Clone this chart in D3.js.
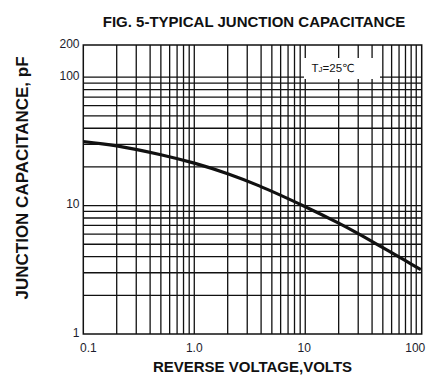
<!DOCTYPE html>
<html>
<head>
<meta charset="utf-8">
<script src="https://cdn.jsdelivr.net/npm/d3@7"></script>
<style>
  html, body { margin: 0; padding: 0; background: #fff; }
  svg { display: block; }
</style>
</head>
<body>
<svg id="chart" width="446" height="384"></svg>
<script>
// ---- data ----
const title = "FIG. 5-TYPICAL JUNCTION CAPACITANCE";
const xTitle = "REVERSE VOLTAGE,VOLTS";
const yTitle = "JUNCTION CAPACITANCE, pF";
const voltage = [0.1, 0.2, 0.5, 1, 2, 3.8, 10, 20, 30, 50, 80, 110];
const capacitance = [31.5, 29.2, 24.9, 21.4, 17.7, 14.3, 9.8, 7.3, 6.05, 4.7, 3.72, 3.17];
const xTickValues = [0.1, 1, 10, 100];
const xTickLabels = ["0.1", "1.0", "10", "100"];
const yTickValues = [1, 10, 100, 200];
const yTickLabels = ["1", "10", "100", "200"];

// ---- layout ----
const svg = d3.select("#chart");
const L = 83.3, R = 421.7, T = 45, B = 334;
const x = d3.scaleLog().domain([0.1, 112]).range([L, R]);
const y = d3.scaleLog().domain([1, 178]).range([B, T]);

// title
svg.append("text").attr("x", 254).attr("y", 27.3)
  .attr("text-anchor", "middle")
  .style("font-family", "'Liberation Sans', Arial, sans-serif")
  .style("font-weight", "bold").style("font-size", "15px").attr("fill", "#111")
  .text(title);

// grid
const g = svg.append("g");
const xGrid = x.ticks().filter(v => v > 0.1 && v <= 100);
const yGrid = y.ticks().filter(v => v > 1 && v <= 100);
g.selectAll("line.v").data(xGrid).join("line")
  .attr("x1", d => x(d)).attr("x2", d => x(d))
  .attr("y1", T).attr("y2", B)
  .attr("stroke", "#111").attr("stroke-width", 1.3);
g.selectAll("line.h").data(yGrid).join("line")
  .attr("x1", L).attr("x2", R)
  .attr("y1", d => y(d)).attr("y2", d => y(d))
  .attr("stroke", "#111").attr("stroke-width", 1.3);

// curve
const pts = voltage.map((v, i) => [v, capacitance[i]]);
svg.append("path").datum(pts)
  .attr("d", d3.line().x(d => x(d[0])).y(d => y(d[1])).curve(d3.curveCatmullRom.alpha(0.5)))
  .attr("fill", "none").attr("stroke", "#111").attr("stroke-width", 3.2)
  .attr("stroke-linecap", "butt");

// frame
svg.append("rect").attr("x", L).attr("y", T).attr("width", R - L).attr("height", B - T)
  .attr("fill", "none").attr("stroke", "#111").attr("stroke-width", 1.5);

// inset label
svg.append("rect").attr("x", 304).attr("y", 58).attr("width", 76).attr("height", 21)
  .attr("fill", "#fff");
const lab = svg.append("text").attr("x", 333).attr("y", 72)
  .attr("text-anchor", "middle")
  .style("font-family", "'Liberation Sans', Arial, sans-serif")
  .style("font-size", "11.5px").attr("fill", "#111");
lab.append("tspan").text("T");
lab.append("tspan").style("font-size", "8px").text("J");
lab.append("tspan").text("=25");
lab.append("tspan").style("font-family", "'DejaVu Sans', sans-serif").style("font-size", "11px").text("℃");

// y tick labels
svg.selectAll("text.yt").data(yTickValues).join("text")
  .attr("x", 79.5)
  .attr("y", d => Math.max(y(d), T) - 1.5)
  .attr("dy", "0.35em")
  .attr("text-anchor", "end")
  .style("font-family", "'Liberation Sans', Arial, sans-serif")
  .style("font-size", "12px").attr("fill", "#1c1c2c")
  .text((d, i) => yTickLabels[i]);

// x tick labels
const xLabOffset = [5, 0, -1, -1];
svg.selectAll("text.xt").data(xTickValues).join("text")
  .attr("x", (d, i) => x(d) + xLabOffset[i])
  .attr("y", 351.7)
  .attr("text-anchor", "middle")
  .style("font-family", "'Liberation Sans', Arial, sans-serif")
  .style("font-size", "12px").attr("fill", "#1c1c2c")
  .text((d, i) => xTickLabels[i]);

// axis titles
svg.append("text").attr("x", 252.5).attr("y", 371.7)
  .attr("text-anchor", "middle")
  .style("font-family", "'Liberation Sans', Arial, sans-serif")
  .style("font-weight", "bold").style("font-size", "15px").attr("fill", "#111")
  .text(xTitle);
svg.append("text")
  .attr("transform", "translate(28.3,178) rotate(-90)")
  .attr("text-anchor", "middle")
  .style("font-family", "'Liberation Sans', Arial, sans-serif")
  .style("font-weight", "bold").style("font-size", "17px").attr("fill", "#111")
  .text(yTitle);
</script>
</body>
</html>
